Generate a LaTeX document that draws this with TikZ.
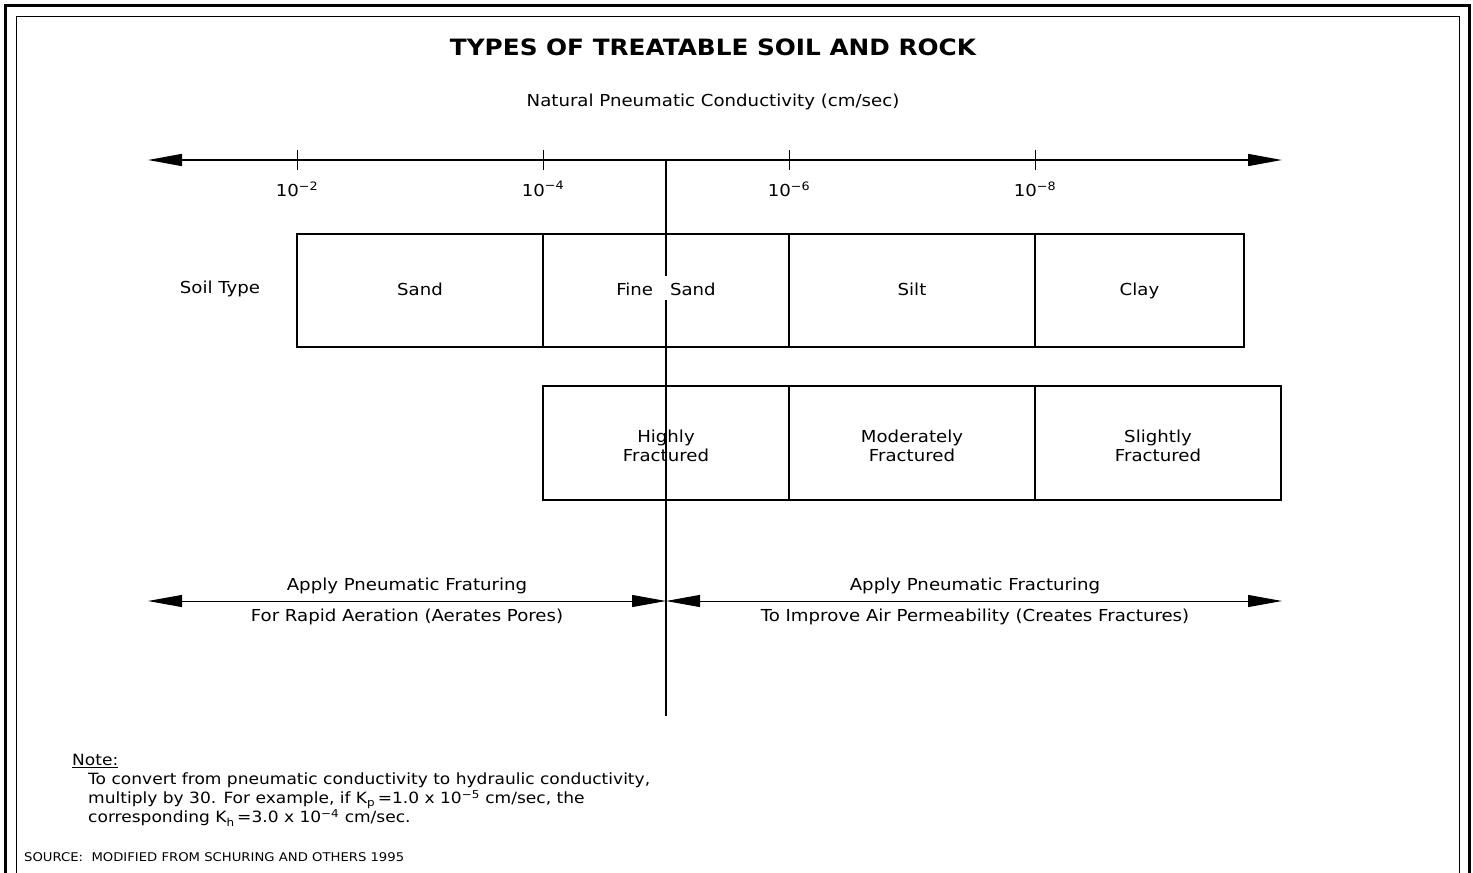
\documentclass[tikz,border=0pt]{standalone}
\usepackage{fontspec}
\setmainfont{DejaVu Sans}[FakeStretch=1.1]
\usetikzlibrary{arrows.meta}
\begin{document}
\begin{tikzpicture}[x=1pt,y=-1pt,
  lbl/.style={font=\fontsize{16.5}{19}\selectfont, inner sep=0pt, align=center},
  cell/.style={draw, line width=1.5pt, minimum height=113pt, inner sep=0pt, align=center, font=\fontsize{16.5}{19}\selectfont},
  tick/.style={line width=1pt},
  bigtip/.tip={Triangle[length=34pt,width=12pt]},
  axisline/.style={line width=1.6pt, bigtip-bigtip},
  dbl/.style={line width=1pt, bigtip-bigtip},
  vline/.style={line width=1.1pt}
]
\useasboundingbox (0,0) rectangle (1473,873);
\clip (0,0) rectangle (1473,873);
% frames
\draw[line width=3pt] (5,5) rectangle (1469,900);
\draw[line width=1pt] (16,16) rectangle (1459,900);

% title
\node[font=\bfseries\fontsize{22.5}{28}\selectfont, inner sep=0] (title) at (713,47) {TYPES OF TREATABLE SOIL AND ROCK};
\node[lbl] (sub) at (713,102) {Natural Pneumatic Conductivity (cm/sec)};

% axis
\coordinate (axL) at (148,160);
\coordinate (axR) at (1282,160);
\draw[axisline] (axL) -- (axR);
\foreach \x/\e in {297/2,543/4,789/6,1035/8} {
  \draw[tick] (\x,150) -- (\x,170);
  \node[lbl] at (\x,189) {10\textsuperscript{−\e}};
}

% soil row
\node[lbl] (soiltype) at (220,289) {Soil Type};
\node[cell, minimum width=246pt] (sand) at (420,290.5) {\vphantom{Ay}Sand};
\node[cell, minimum width=246pt] (fsand) at (666,290.5) {\vphantom{Ay}Fine\hspace{17pt}Sand};
\node[cell, minimum width=246pt] (silt) at (912,290.5) {\vphantom{Ay}Silt};
\node[cell, minimum width=209pt] (clay) at (1139.5,290.5) {\vphantom{Ay}Clay};

% fracture row
\node[cell, minimum width=246pt, minimum height=114pt] (high) at (666,443) {};
\node[cell, minimum width=246pt, minimum height=114pt] (mod) at (912,443) {};
\node[cell, minimum width=246pt, minimum height=114pt] (slight) at (1158,443) {};
\node[lbl] (hight) at ([yshift=-3pt]high.center) {Highly\\Fractured};
\node[lbl] (modt) at ([yshift=-3pt]mod.center) {Moderately\\Fractured};
\node[lbl] (slightt) at ([yshift=-3pt]slight.center) {Slightly\\Fractured};

% vertical divider
\coordinate (vtop) at (666,160);
\coordinate (g1) at (666,276);
\coordinate (g2) at (666,300);
\coordinate (vbot) at (666,716);
\draw[vline] (vtop) -- (g1);
\draw[vline] (g2) -- (vbot);

% bottom arrows
\coordinate (bL) at (148,601);
\coordinate (bM) at (666,601);
\coordinate (bR) at (1282,601);
\draw[dbl] (bL) -- (bM);
\draw[dbl] (bM) -- (bR);
\node[lbl] (l1) at (407,586) {Apply Pneumatic Fraturing};
\node[lbl] (l2) at (407,617) {For Rapid Aeration (Aerates Pores)};
\node[lbl] (r1) at (975,586) {Apply Pneumatic Fracturing};
\node[lbl] (r2) at (975,617) {To Improve Air Permeability (Creates Fractures)};

% note
\node[lbl, anchor=west, font=\fontsize{15.5}{19}\selectfont] (note) at (72,761) {\underline{Note:}};
\node[anchor=north west, align=left, inner sep=0pt, font=\fontsize{15.5}{19}\selectfont] (notetext) at (88,773)
  {To convert from pneumatic conductivity to hydraulic conductivity,\\
   multiply by 30. For example, if K\textsubscript{p}\,=1.0 x 10\textsuperscript{−5} cm/sec, the\\
   corresponding K\textsubscript{h}\,=3.0 x 10\textsuperscript{−4} cm/sec.};
\node[anchor=west, inner sep=0pt, font=\fontsize{12}{14}\selectfont] (source) at (24,857) {SOURCE:\ \ MODIFIED\ FROM\ SCHURING\ AND\ OTHERS\ 1995};
\end{tikzpicture}
\end{document}
